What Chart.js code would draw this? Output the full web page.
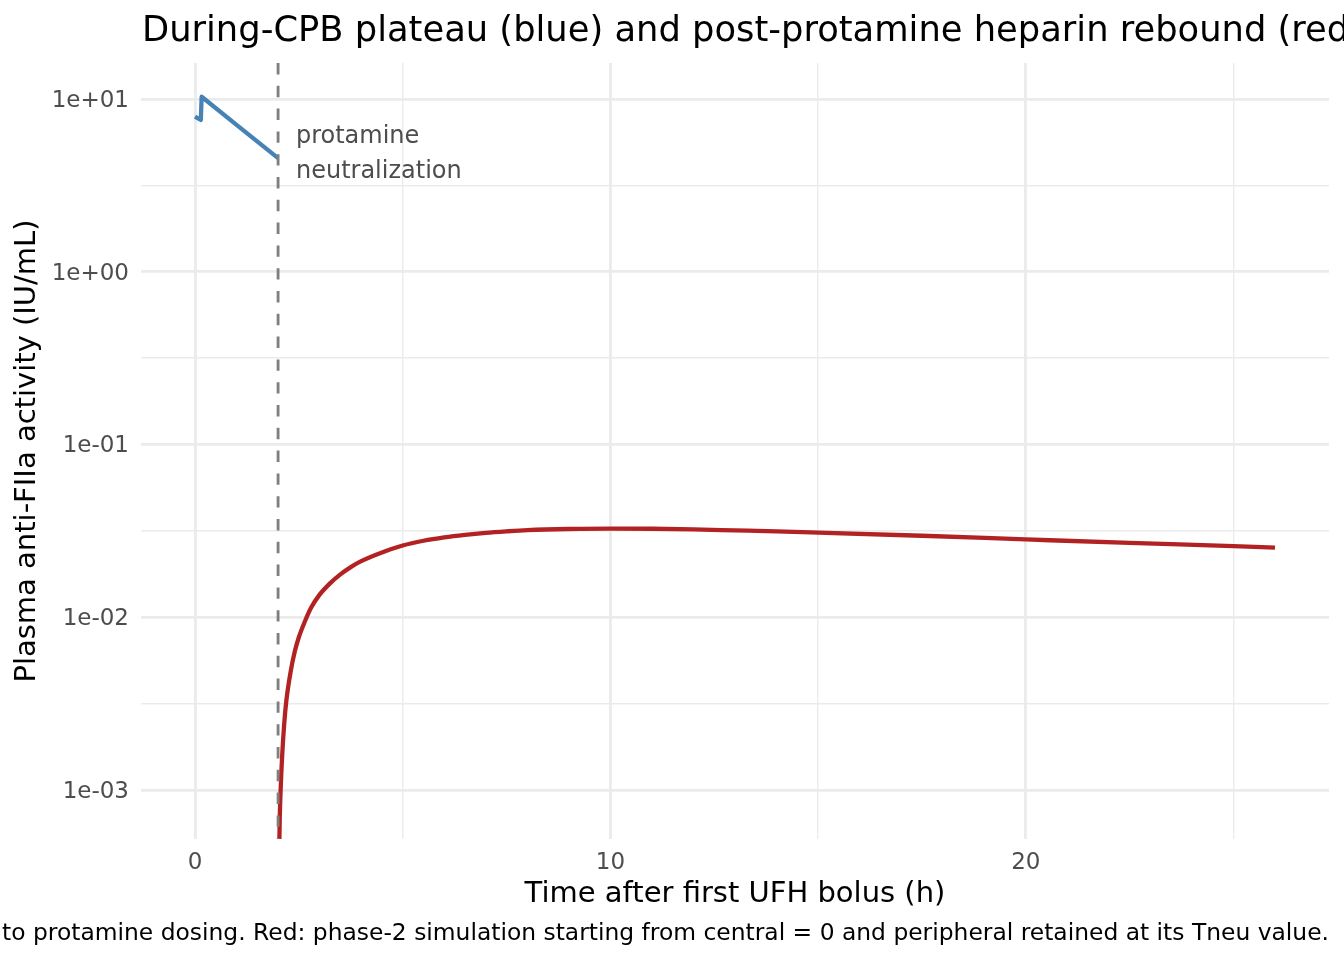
<!DOCTYPE html>
<html><head><meta charset="utf-8">
<script src="https://cdn.jsdelivr.net/npm/chart.js@4.4.1/dist/chart.umd.min.js"></script>
<style>html,body{margin:0;padding:0;background:#fff;} canvas{display:block;}</style>
</head><body>
<canvas id="c" width="1344" height="960"></canvas>
<script>
const titleText = 'During-CPB plateau (blue) and post-protamine heparin rebound (red)';
const captionText = 'to protamine dosing. Red: phase-2 simulation starting from central = 0 and peripheral retained at its Tneu value.';
const xAxisTitle = 'Time after first UFH bolus (h)';
const yAxisTitle = 'Plasma anti-FIIa activity (IU/mL)';
const annotationLines = ['protamine', 'neutralization'];
const annotationX = 2.43;
const annotationY = 4.8;
const protamineTime = 2;

const blueTime  = [0, 0.14, 0.16, 1.0, 2.0];
const blueValue = [7.9, 7.55, 10.3, 7.08, 4.54];

const redTime  = [2.02, 2.04, 2.065, 2.1, 2.15, 2.2, 2.3, 2.4, 2.5, 2.65, 2.8, 3.0, 3.25, 3.5, 3.75, 4.0, 4.5, 5.0, 5.5, 6.0, 6.5, 7.0, 7.5, 8.0, 9.0, 10, 11, 12, 13, 14, 15, 17.5, 20, 22.5, 25, 26];
const redValue = [3.5e-4, 6.8e-4, 1.05e-3, 1.6e-3, 2.45e-3, 3.3e-3, 4.8e-3, 6.3e-3, 7.65e-3, 9.5e-3, 1.14e-2, 1.35e-2, 1.57e-2, 1.77e-2, 1.95e-2, 2.11e-2, 2.37e-2, 2.6e-2, 2.77e-2, 2.9e-2, 3.0e-2, 3.08e-2, 3.14e-2, 3.19e-2, 3.24e-2, 3.26e-2, 3.25e-2, 3.22e-2, 3.18e-2, 3.14e-2, 3.09e-2, 2.96e-2, 2.82e-2, 2.69e-2, 2.58e-2, 2.53e-2];

const xTickValues = [0, 5, 10, 15, 20, 25];
const xTickLabels = ['0', '', '10', '', '20', ''];
const yTickValues = [1e-3, Math.pow(10, -2.5), 1e-2, Math.pow(10, -1.5), 1e-1, Math.pow(10, -0.5), 1, Math.pow(10, 0.5), 10];
const yTickLabels = ['1e-03', '', '1e-02', '', '1e-01', '', '1e+00', '', '1e+01'];
const xRange = [-1.3, 27.3];
const yRange = [Math.pow(10, -3.284), Math.pow(10, 1.208)];

const FONT = 'DejaVu Sans';
Chart.defaults.font.family = FONT;

const textPlugin = {
  id: 'texts',
  afterDraw(chart) {
    const ctx = chart.ctx;
    const xs = chart.scales.x, ys = chart.scales.y;
    ctx.save();
    ctx.fillStyle = '#000000';
    ctx.textBaseline = 'alphabetic';
    ctx.textAlign = 'left';
    ctx.font = '35.3px "' + FONT + '"';
    ctx.fillText(titleText, 142, 41);
    ctx.font = '23.4px "' + FONT + '"';
    ctx.textAlign = 'right';
    ctx.fillText(captionText, 1329, 940);
    ctx.fillStyle = '#4D4D4D';
    ctx.font = '24px "' + FONT + '"';
    ctx.textAlign = 'left';
    ctx.textBaseline = 'middle';
    const ax = xs.getPixelForValue(annotationX);
    const ay = ys.getPixelForValue(annotationY);
    annotationLines.forEach((t, i) => {
      ctx.fillText(t, ax, ay + (i - (annotationLines.length - 1) / 2) * 35);
    });
    ctx.restore();
  }
};

new Chart(document.getElementById('c'), {
  type: 'line',
  data: {
    datasets: [
      {
        label: 'protamine',
        data: [{x: protamineTime, y: yRange[1]}, {x: protamineTime, y: yRange[0]}],
        borderColor: '#7F7F7F', borderWidth: 2.84, borderDash: [11.4, 11.4],
        pointRadius: 0, tension: 0, borderCapStyle: 'butt', clip: 0
      },
      {
        label: 'during CPB',
        data: blueTime.map((t, i) => ({x: t, y: blueValue[i]})),
        borderColor: '#4682B4', borderWidth: 4.3, pointRadius: 0, tension: 0,
        borderJoinStyle: 'round', clip: 0
      },
      {
        label: 'rebound',
        data: redTime.map((t, i) => ({x: t, y: redValue[i]})),
        borderColor: '#B22222', borderWidth: 4.3, pointRadius: 0,
        cubicInterpolationMode: 'monotone', borderJoinStyle: 'round', clip: 0
      }
    ]
  },
  options: {
    responsive: false,
    devicePixelRatio: 1,
    animation: false,
    layout: { padding: { top: 63, right: 15, bottom: 48, left: 0 } },
    plugins: { legend: { display: false }, tooltip: { enabled: false }, title: { display: false } },
    scales: {
      x: {
        type: 'linear', min: xRange[0], max: xRange[1], bounds: 'data',
        afterBuildTicks: s => { s.ticks = xTickValues.map(v => ({value: v})); },
        afterFit: s => { s.height = 73; },
        ticks: {
          autoSkip: false, maxRotation: 0, padding: 10, color: '#4D4D4D',
          font: { family: FONT, size: 23, lineHeight: 1.2 },
          callback: (v, i) => xTickLabels[i]
        },
        grid: {
          color: '#EBEBEB', drawTicks: false,
          lineWidth: c => (xTickLabels[c.index] === '' ? 1.42 : 2.84)
        },
        border: { display: false },
        title: {
          display: true, text: xAxisTitle, color: '#000000',
          font: { family: FONT, size: 29, lineHeight: 1.2 },
          padding: { top: 0, bottom: 0 }
        }
      },
      y: {
        type: 'logarithmic', min: yRange[0], max: yRange[1], bounds: 'data',
        afterBuildTicks: s => { s.ticks = yTickValues.map(v => ({value: v})); },
        afterFit: s => { s.width = 141; },
        ticks: {
          autoSkip: false, padding: 12, labelOffset: 2, color: '#4D4D4D',
          font: { family: FONT, size: 23, lineHeight: 1.2 },
          callback: (v, i) => yTickLabels[i]
        },
        grid: {
          color: '#EBEBEB', drawTicks: false,
          lineWidth: c => (yTickLabels[c.index] === '' ? 1.42 : 2.84)
        },
        border: { display: false },
        title: {
          display: true, text: yAxisTitle, color: '#000000',
          font: { family: FONT, size: 29, lineHeight: 1.2 },
          padding: { top: 9.6, bottom: 0 }
        }
      }
    }
  },
  plugins: [textPlugin]
});
</script>
</body></html>
